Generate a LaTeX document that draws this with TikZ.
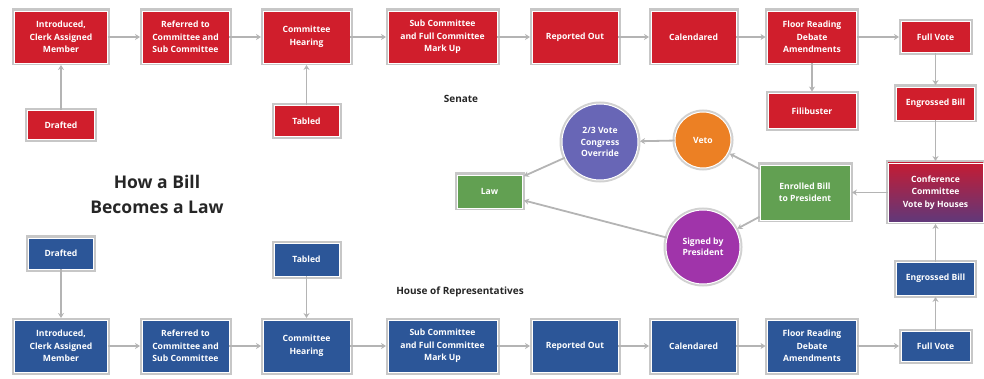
\documentclass[tikz,border=0pt]{standalone}
\usepackage{fontspec}
\setmainfont{Open Sans}
\usetikzlibrary{arrows.meta,shadings}
\definecolor{sred}{RGB}{208,30,44}
\definecolor{hblue}{RGB}{44,86,152}
\definecolor{lgreen}{RGB}{98,160,82}
\definecolor{vorange}{RGB}{236,128,36}
\definecolor{tpurple}{RGB}{104,102,182}
\definecolor{smag}{RGB}{160,52,170}
\definecolor{cred}{RGB}{196,28,52}
\definecolor{cpurp}{RGB}{96,56,122}
\definecolor{edge}{RGB}{180,180,180}
\begin{document}
\begin{tikzpicture}[x=1pt,y=-1pt,
  box/.style={rectangle, draw=white, line width=0.9pt,
    preaction={draw=black!22, line width=5pt},
    text=white, font=\bfseries\fontsize{8.6}{12.5}\selectfont, align=center, inner sep=1pt},
  rbox/.style={box, fill=sred},
  bbox/.style={box, fill=hblue},
  gbox/.style={box, fill=lgreen},
  circ/.style={circle, draw=white, line width=1pt,
    preaction={draw=black!18, line width=5pt},
    text=white, font=\bfseries\fontsize{8.6}{11.5}\selectfont, align=center, inner sep=1pt},
  arr/.style={draw=edge, line width=1.8pt, shorten >=1.5pt,
    -{Stealth[length=5pt,width=6pt]}},
  lab/.style={font=\bfseries\fontsize{10}{12}\selectfont, text=black!85}
]
\useasboundingbox (0,0) rectangle (984,379);
% ---------- Senate ----------
\node[rbox, minimum width=93, minimum height=52] (iS) at (61,37) {Introduced,\\Clerk Assigned\\Member};
\node[rbox, minimum width=87, minimum height=52] (rS) at (185.5,37) {Referred to\\Committee and\\Sub Committee};
\node[rbox, minimum width=87, minimum height=52] (cS) at (306.5,37) {Committee\\Hearing};
\node[rbox, minimum width=109, minimum height=52] (sS) at (442.5,37) {Sub Committee\\and Full Committee\\Mark Up};
\node[rbox, minimum width=86, minimum height=52] (roS) at (575,37) {Reported Out};
\node[rbox, minimum width=85, minimum height=52] (caS) at (693.5,37) {Calendared};
\node[rbox, minimum width=89, minimum height=52] (fS) at (812,37) {Floor Reading\\Debate\\Amendments};
\node[rbox, minimum width=69, minimum height=31] (fvS) at (935.5,37) {Full Vote};
\node[rbox, minimum width=88, minimum height=35] (fiS) at (812,111) {Filibuster};
\node[rbox, minimum width=78, minimum height=33] (eS) at (935.5,103.5) {Engrossed Bill};
\node[rbox, minimum width=67, minimum height=29] (dS) at (61,125) {Drafted};
\node[rbox, minimum width=65, minimum height=31] (tS) at (306.5,121) {Tabled};
\node[lab] (senate) at (461,99) {Senate};
% ---------- House ----------
\node[bbox, minimum width=93, minimum height=52] (iH) at (61,346) {Introduced,\\Clerk Assigned\\Member};
\node[bbox, minimum width=87, minimum height=52] (rH) at (185.5,346) {Referred to\\Committee and\\Sub Committee};
\node[bbox, minimum width=87, minimum height=52] (cH) at (306.5,346) {Committee\\Hearing};
\node[bbox, minimum width=109, minimum height=52] (sH) at (442.5,346) {Sub Committee\\and Full Committee\\Mark Up};
\node[bbox, minimum width=86, minimum height=52] (roH) at (575,346) {Reported Out};
\node[bbox, minimum width=85, minimum height=52] (caH) at (693.5,346) {Calendared};
\node[bbox, minimum width=89, minimum height=52] (fH) at (812,346) {Floor Reading\\Debate\\Amendments};
\node[bbox, minimum width=69, minimum height=30] (fvH) at (935.5,346) {Full Vote};
\node[bbox, minimum width=78, minimum height=33] (eH) at (935.5,278.5) {Engrossed Bill};
\node[bbox, minimum width=65, minimum height=31] (dH) at (61,253.5) {Drafted};
\node[bbox, minimum width=65, minimum height=33] (tH) at (306.5,259.5) {Tabled};
\node[lab] (house) at (460,292) {House of Representatives};
% ---------- Middle ----------
\node[box, top color=cred, bottom color=cpurp, minimum width=95, minimum height=59] (conf) at (935.5,192.5) {Conference\\Committee\\Vote by Houses};
\node[gbox, minimum width=90, minimum height=55] (enr) at (805,192.5) {Enrolled Bill\\to President};
\node[gbox, minimum width=65, minimum height=33] (law) at (489.5,191.5) {Law};
\node[circ, fill=tpurple, minimum size=76] (two) at (600,142) {2/3 Vote\\Congress\\Override};
\node[circ, fill=vorange, minimum size=56] (veto) at (703,140) {Veto};
\node[circ, fill=smag, minimum size=74] (sign) at (703,247) {Signed by\\President};
\node[font=\bfseries\fontsize{17.5}{25}\selectfont, text=black!85, align=center] (title) at (157,194) {How a Bill\\Becomes a Law};
% ---------- Connectors ----------
\foreach \a/\b in {iS/rS, rS/cS, cS/sS, sS/roS, roS/caS, caS/fS, fS/fvS,
                   iH/rH, rH/cH, cH/sH, sH/roH, roH/caH, caH/fH, fH/fvH,
                   dS/iS, tS/cS, fS/fiS, fvS/eS, eS/conf,
                   dH/iH, tH/cH, fvH/eH, eH/conf,
                   conf/enr, enr/veto, enr/sign, veto/two, two/law, sign/law}
  \draw[arr] (\a) -- (\b);
\end{tikzpicture}
\end{document}
